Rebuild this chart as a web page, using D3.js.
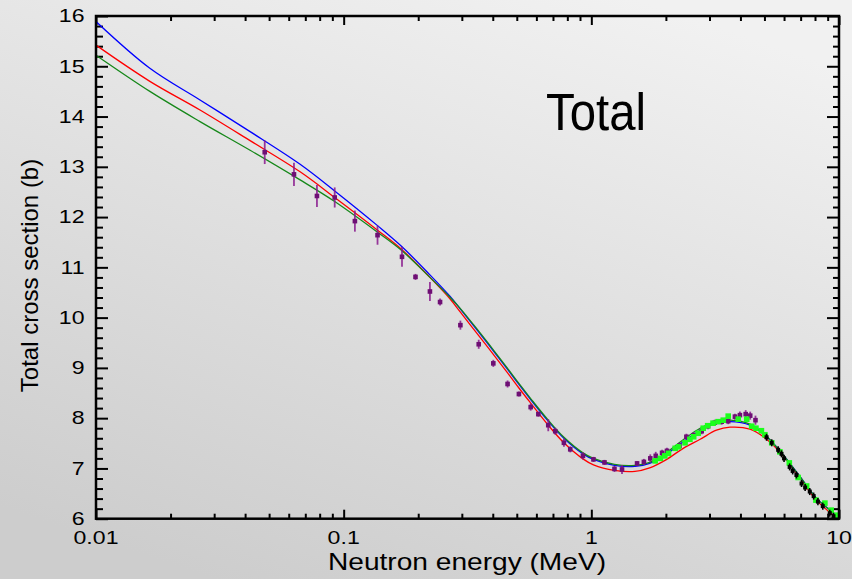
<!DOCTYPE html>
<html>
<head>
<meta charset="utf-8">
<script src="https://cdn.jsdelivr.net/npm/d3@7"></script>
<style>
  html, body { margin: 0; padding: 0; overflow: hidden; }
  svg { display: block; }
  text { font-family: "Liberation Sans", Arial, sans-serif; fill: #000; }
</style>
</head>
<body>
<div id="chart"></div>
<script>
// model curves (energy in MeV, cross section in barns)
const energyGrid = [0.01, 0.0165, 0.0263, 0.0419, 0.0667, 0.092, 0.137, 0.172, 0.223, 0.268, 0.296, 0.351, 0.402, 0.459, 0.51, 0.569, 0.67, 0.775, 0.925, 1.02, 1.24, 1.5, 1.72, 2.0, 2.35, 2.75, 3.2, 3.63, 4.37, 5.1, 5.95, 6.95, 8.1, 9.5, 10];
const blueCurve  = [15.89, 14.96, 14.33, 13.70, 13.05, 12.52, 11.83, 11.41, 10.85, 10.43, 10.17, 9.71, 9.34, 8.97, 8.67, 8.37, 7.94, 7.60, 7.29, 7.18, 7.06, 7.04, 7.10, 7.28, 7.53, 7.76, 7.90, 7.93, 7.86, 7.63, 7.27, 6.84, 6.41, 6.11, 6.00];
const redCurve   = [15.42, 14.70, 14.13, 13.52, 12.90, 12.39, 11.74, 11.35, 10.80, 10.38, 10.11, 9.64, 9.27, 8.90, 8.60, 8.30, 7.86, 7.51, 7.19, 7.07, 6.96, 6.94, 7.01, 7.17, 7.40, 7.58, 7.76, 7.82, 7.78, 7.58, 7.25, 6.81, 6.37, 6.06, 5.95];
const greenCurve = [15.22, 14.50, 13.90, 13.33, 12.74, 12.31, 11.70, 11.33, 10.80, 10.41, 10.18, 9.73, 9.36, 8.99, 8.69, 8.39, 7.96, 7.62, 7.31, 7.20, 7.08, 7.06, 7.12, 7.31, 7.57, 7.80, 7.93, 7.96, 7.88, 7.64, 7.27, 6.84, 6.41, 6.11, 6.00];

// measured data sets
const purpleE   = [0.048, 0.063, 0.078, 0.092, 0.111, 0.137, 0.172, 0.195, 0.223, 0.245, 0.296, 0.351, 0.402, 0.459, 0.510, 0.569, 0.611, 0.670, 0.715, 0.775, 0.822, 0.925, 1.02, 1.13, 1.24, 1.33, 1.53, 1.63, 1.73, 1.82, 1.93, 2.02, 2.27, 2.42, 2.59, 2.79, 2.96, 3.15, 3.36, 3.57, 3.80, 3.98, 4.20, 4.38, 4.60];
const purpleS   = [13.29, 12.85, 12.42, 12.39, 11.92, 11.64, 11.21, 10.81, 10.52, 10.31, 9.85, 9.47, 9.09, 8.68, 8.48, 8.22, 8.08, 7.86, 7.74, 7.51, 7.38, 7.25, 7.18, 7.12, 6.99, 6.98, 7.10, 7.13, 7.20, 7.25, 7.31, 7.35, 7.45, 7.63, 7.66, 7.74, 7.84, 7.91, 7.93, 7.94, 8.03, 8.06, 8.08, 8.05, 7.96];
const purpleErr = [0.235, 0.23, 0.22, 0.20, 0.21, 0.19, 0.20, 0.06, 0.19, 0.07, 0.09, 0.09, 0.07, 0.07, 0.05, 0.07, 0.05, 0.12, 0.07, 0.08, 0.06, 0.07, 0.05, 0.05, 0.06, 0.09, 0.05, 0.06, 0.08, 0.08, 0.06, 0.06, 0.06, 0.06, 0.06, 0.06, 0.06, 0.06, 0.06, 0.06, 0.06, 0.07, 0.08, 0.08, 0.09];

const limeE = [1.81, 1.90, 1.98, 2.05, 2.18, 2.25, 2.39, 2.50, 2.59, 2.70, 2.83, 2.95, 3.10, 3.25, 3.41, 3.57, 3.92, 4.24, 4.44, 4.62, 4.86, 5.02, 5.35, 5.77, 6.30, 6.84, 7.40, 8.07, 8.77, 9.30, 9.73];
const limeS = [7.15, 7.20, 7.25, 7.30, 7.40, 7.43, 7.51, 7.58, 7.63, 7.70, 7.80, 7.85, 7.90, 7.93, 7.96, 8.04, 7.98, 7.98, 7.84, 7.80, 7.75, 7.67, 7.51, 7.33, 7.11, 6.82, 6.65, 6.37, 6.31, 6.17, 6.07];

const blackE = [5.10, 5.35, 5.68, 5.86, 6.00, 6.32, 6.50, 6.73, 7.06, 7.30, 7.62, 7.90, 8.22, 8.60, 9.18, 9.50];
const blackS = [7.62, 7.51, 7.37, 7.29, 7.20, 7.03, 6.95, 6.87, 6.70, 6.62, 6.54, 6.45, 6.34, 6.25, 6.11, 6.05];

// axis ticks
const xTickValues = [0.01, 0.1, 1, 10];
const xTickLabels = ["0.01", "0.1", "1", "10"];
const yTickValues = [6, 7, 8, 9, 10, 11, 12, 13, 14, 15, 16];

const W = 852, H = 579;
const plot = {left: 96, right: 839, top: 16, bottom: 518.7};

const svg = d3.select("#chart").append("svg")
    .attr("width", W)
    .attr("height", H);

const defs = svg.append("defs");
const grad = defs.append("linearGradient")
    .attr("id", "bg")
    .attr("x1", "0.75").attr("y1", "0")
    .attr("x2", "0.25").attr("y2", "1");
grad.append("stop").attr("offset", "0").attr("stop-color", "#f1f1f1");
grad.append("stop").attr("offset", "1").attr("stop-color", "#cdcdcd");

defs.append("clipPath").attr("id", "clip")
  .append("rect")
    .attr("x", plot.left).attr("y", plot.top)
    .attr("width", plot.right - plot.left)
    .attr("height", plot.bottom - plot.top);

svg.append("rect")
    .attr("width", W).attr("height", H)
    .attr("fill", "url(#bg)");

const x = d3.scaleLog().domain([0.01, 10]).range([plot.left, plot.right]);
const y = d3.scaleLinear().domain([6, 16]).range([plot.bottom, plot.top]);

const xMinor = x.ticks().filter(v => !xTickValues.some(t => Math.abs(t - v) < 1e-9));
const yMinor = d3.range(6, 16.001, 0.2).filter(v => Math.abs(v - Math.round(v)) > 1e-6);

// tick marks on all four sides, pointing inward
function tickAxis(axis, translate) {
    const g = svg.append("g")
        .attr("transform", translate)
        .call(axis.tickSizeOuter(0).tickFormat(""));
    g.select(".domain").remove();
    g.selectAll(".tick line").attr("stroke", "#000").attr("stroke-width", 2);
}
tickAxis(d3.axisBottom(x).tickValues(xTickValues).tickSize(-9), `translate(0,${plot.bottom})`);
tickAxis(d3.axisBottom(x).tickValues(xMinor).tickSize(-5), `translate(0,${plot.bottom})`);
tickAxis(d3.axisTop(x).tickValues(xTickValues).tickSize(-9), `translate(0,${plot.top})`);
tickAxis(d3.axisTop(x).tickValues(xMinor).tickSize(-5), `translate(0,${plot.top})`);
tickAxis(d3.axisLeft(y).tickValues(yTickValues).tickSize(-12), `translate(${plot.left},0)`);
tickAxis(d3.axisLeft(y).tickValues(yMinor).tickSize(-7), `translate(${plot.left},0)`);
tickAxis(d3.axisRight(y).tickValues(yTickValues).tickSize(-12), `translate(${plot.right},0)`);
tickAxis(d3.axisRight(y).tickValues(yMinor).tickSize(-6), `translate(${plot.right},0)`);

// tick labels
svg.append("g").selectAll("g")
    .data(xTickValues)
    .enter().append("g")
    .attr("transform", d => `translate(${x(d)},${plot.bottom + 25.5})`)
  .append("text")
    .attr("text-anchor", "middle")
    .attr("font-size", 17.5)
    .attr("transform", "scale(1.32,1)")
    .text((d, i) => xTickLabels[i]);

svg.append("g").selectAll("g")
    .data(yTickValues)
    .enter().append("g")
    .attr("transform", d => `translate(84.5,${y(d)})`)
  .append("text")
    .attr("text-anchor", "end")
    .attr("dy", "0.36em")
    .attr("font-size", 17.5)
    .attr("transform", "scale(1.32,1)")
    .text(d => d);

// curves
const grid = energyGrid.map((e, i) => ({e, b: blueCurve[i], r: redCurve[i], g: greenCurve[i]}));
const curves = svg.append("g").attr("clip-path", "url(#clip)");
[["r", "#ff0000"], ["b", "#0000ff"], ["g", "#16881a"]].forEach(([k, c]) => {
    curves.append("path")
        .datum(grid)
        .attr("fill", "none")
        .attr("stroke", c)
        .attr("stroke-width", 1.3)
        .attr("d", d3.line()
            .x(d => x(d.e))
            .y(d => y(d[k]))
            .curve(d3.curveCatmullRom.alpha(0.5)));
});

// data points
const pts = svg.append("g").attr("clip-path", "url(#clip)");

const purple = purpleE.map((e, i) => ({e, s: purpleS[i], err: purpleErr[i]}));
pts.selectAll(".perr")
    .data(purple)
    .enter().append("line")
    .attr("x1", d => x(d.e)).attr("x2", d => x(d.e))
    .attr("y1", d => y(d.s - d.err)).attr("y2", d => y(d.s + d.err))
    .attr("stroke", "#8a1a8e").attr("stroke-width", 1.8).attr("opacity", 0.85);
pts.selectAll(".pmark")
    .data(purple)
    .enter().append("rect")
    .attr("x", d => x(d.e) - 2.3).attr("y", d => y(d.s) - 2.3)
    .attr("width", 4.6).attr("height", 4.6)
    .attr("fill", "#6e0f74");

const lime = limeE.map((e, i) => ({e, s: limeS[i]}));
pts.selectAll(".lmark")
    .data(lime)
    .enter().append("rect")
    .attr("x", d => x(d.e) - 2.8).attr("y", d => y(d.s) - 2.8)
    .attr("width", 5.6).attr("height", 5.6)
    .attr("fill", "#1cff1c");

const black = blackE.map((e, i) => ({e, s: blackS[i]}));
pts.selectAll(".berr")
    .data(black)
    .enter().append("line")
    .attr("x1", d => x(d.e)).attr("x2", d => x(d.e))
    .attr("y1", d => y(d.s - 0.07)).attr("y2", d => y(d.s + 0.07))
    .attr("stroke", "#000").attr("stroke-width", 1.6);
pts.selectAll(".bmark")
    .data(black)
    .enter().append("rect")
    .attr("x", d => x(d.e) - 2).attr("y", d => y(d.s) - 2)
    .attr("width", 4).attr("height", 4)
    .attr("fill", "#000");

// frame
svg.append("rect")
    .attr("x", plot.left).attr("y", plot.top)
    .attr("width", plot.right - plot.left)
    .attr("height", plot.bottom - plot.top)
    .attr("fill", "none")
    .attr("stroke", "#000")
    .attr("stroke-width", 2.5);

// titles
svg.append("text")
    .attr("x", 467).attr("y", 570)
    .attr("text-anchor", "middle")
    .attr("font-size", 24)
    .attr("textLength", 278)
    .attr("lengthAdjust", "spacingAndGlyphs")
    .text("Neutron energy (MeV)");

svg.append("text")
    .attr("transform", "translate(38,275.5) rotate(-90)")
    .attr("text-anchor", "middle")
    .attr("font-size", 24)
    .text("Total cross section (b)");

svg.append("text")
    .attr("x", 546).attr("y", 130)
    .attr("font-size", 51)
    .attr("textLength", 100)
    .attr("lengthAdjust", "spacingAndGlyphs")
    .text("Total");
</script>
</body>
</html>
